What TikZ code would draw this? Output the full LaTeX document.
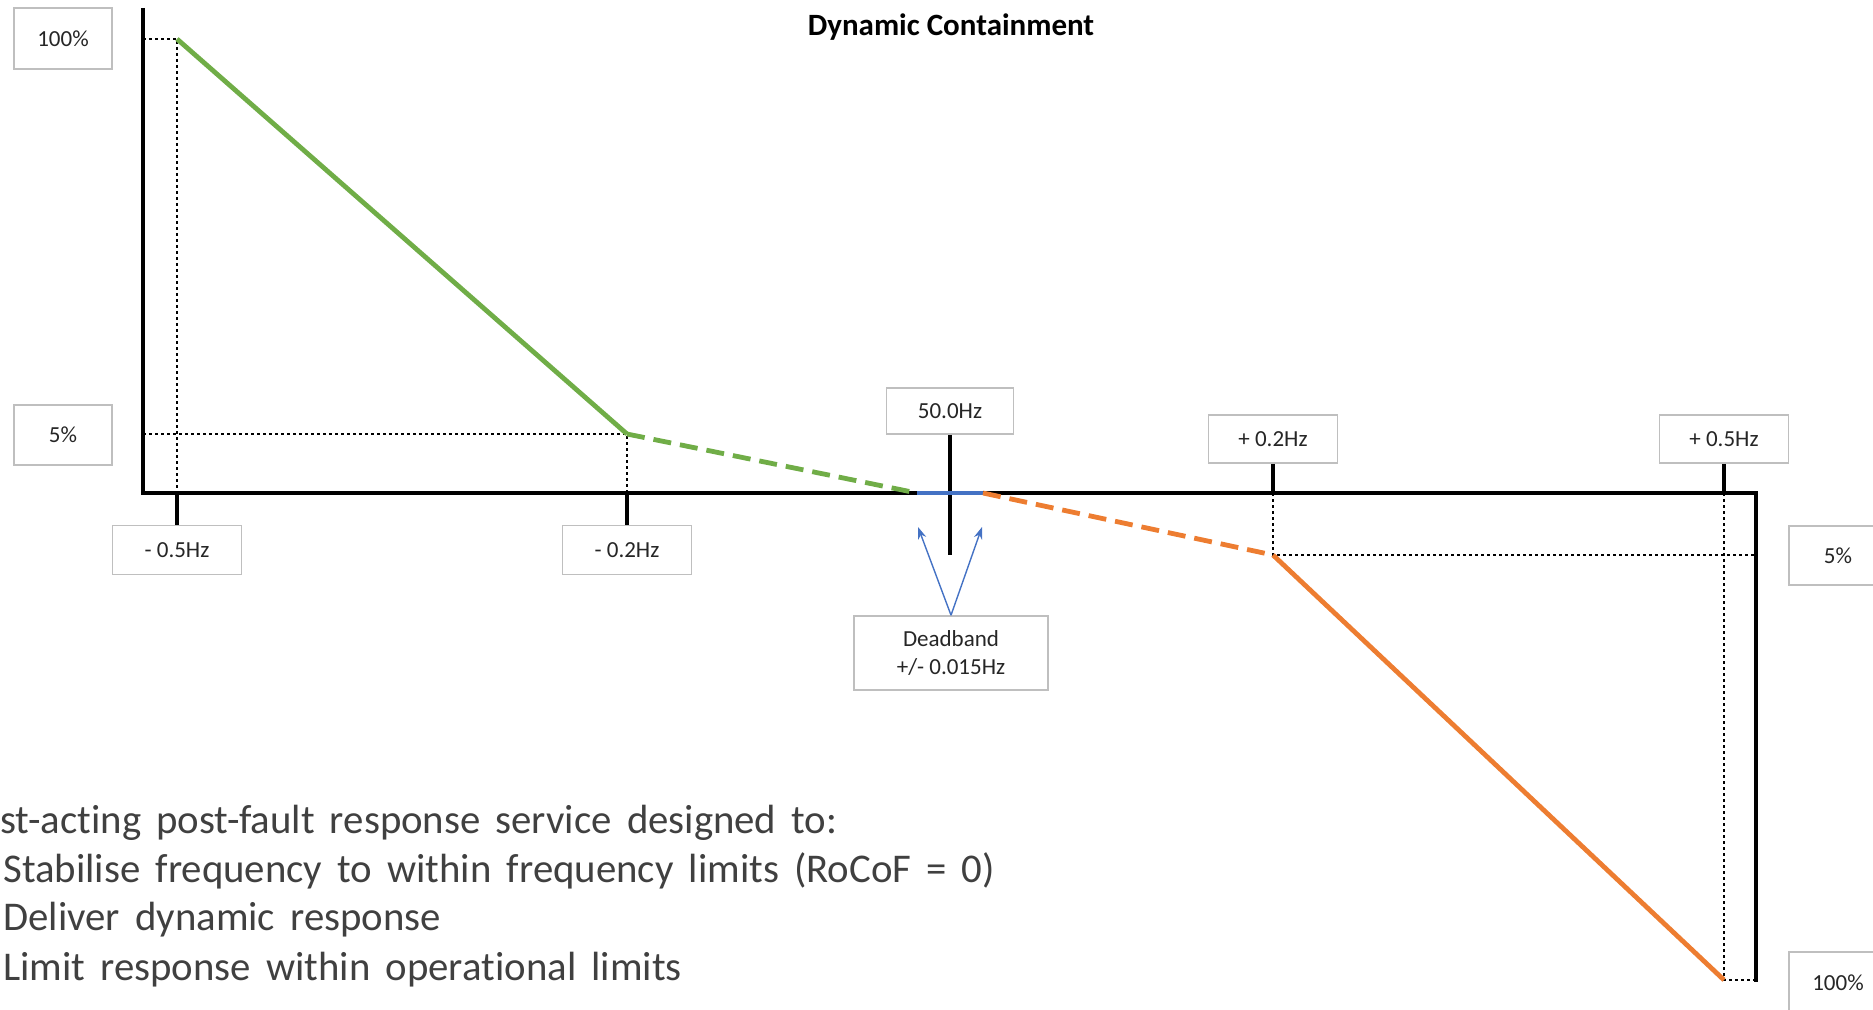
\documentclass[tikz,border=0pt]{standalone}
\usepackage{fontspec}
\setmainfont{Carlito}[Ligatures={NoCommon}]
\usetikzlibrary{arrows.meta}
\definecolor{dcgreen}{HTML}{70AD47}
\definecolor{dcorange}{HTML}{ED7D31}
\definecolor{dcblue}{HTML}{4472C4}
\definecolor{boxgray}{HTML}{BFBFBF}
\definecolor{txtgray}{HTML}{404040}
\definecolor{lbltxt}{HTML}{262626}
\newcommand{\bodyfont}{\fontsize{20.4}{24}\selectfont\spaceskip=0.37em plus 0.1em\relax}
\begin{document}
\begin{tikzpicture}[x=0.5pt,y=-0.5pt,
  lbl/.style={draw=boxgray, line width=0.8pt, fill=white, inner sep=0pt,
    font=\fontsize{11.5}{14}\selectfont, text=lbltxt, align=center},
  axisline/.style={line width=1.7pt, black, line join=miter},
  guide/.style={line width=0.7pt, black, dash pattern=on 1.5pt off 1.5pt},
  curve/.style={line width=2.4pt},
  dashcurve/.style={line width=2.4pt, dash pattern=on 9pt off 4.5pt},
  dbarrow/.style={line width=0.7pt, dcblue, -{Stealth[length=6pt,width=4.2pt]}},
  bodytext/.style={anchor=base west, inner sep=0pt, text=txtgray, font=\bodyfont}]
\useasboundingbox (0,0) rectangle (1873,1010);
\clip (0,0) rectangle (1873,1010);

% key points
\coordinate (ytop) at (143,8);
\coordinate (O) at (143,493);
\coordinate (xr) at (1756,493);
\coordinate (ybot) at (1756,982);
\coordinate (p1) at (177,39);
\coordinate (p2) at (627,434);
\coordinate (p3) at (917,493);
\coordinate (p4) at (983,493);
\coordinate (p5) at (1273,555);
\coordinate (p6) at (1724,980);
\coordinate (cbot) at (950,555);

% title
\node[anchor=base, font=\bfseries\fontsize{15.5}{18}\selectfont] (title) at (951,36) {Dynamic Containment};

% guides
\draw[guide] (O |- p1) -- (p1) -- (p1 |- O);
\draw[guide] (O |- p2) -- (p2) -- (p2 |- O);
\draw[guide] (p5 |- O) -- (p5) -- (xr |- p5);
\draw[guide] (p6 |- O) -- (p6) -- (xr |- p6);

% axes
\draw[axisline] (ytop) -- (O) -- (xr) -- (ybot);

% label boxes
\node[lbl, minimum width=49pt, minimum height=30.5pt] (b100) at (63,38.5) {100\%};
\node[lbl, minimum width=49pt, minimum height=30pt] (b5) at (63,435) {5\%};
\node[lbl, minimum width=64.5pt, minimum height=24.5pt] (bm05) at (177,550) {- 0.5Hz};
\node[lbl, minimum width=64.5pt, minimum height=24.5pt] (bm02) at (627,550) {- 0.2Hz};
\node[lbl, minimum width=63.5pt, minimum height=23pt] (b50) at (950,411) {50.0Hz};
\node[lbl, minimum width=64.5pt, minimum height=24pt] (bp02) at (1273,439) {+ 0.2Hz};
\node[lbl, minimum width=64.5pt, minimum height=24pt] (bp05) at (1724,439) {+ 0.5Hz};
\node[lbl, minimum width=49pt, minimum height=29.5pt] (b5r) at (1838,555.5) {5\%};
\node[lbl, minimum width=49pt, minimum height=30.5pt] (b100r) at (1838,982.5) {100\%};
\node[lbl, minimum width=97pt, minimum height=37pt] (db) at (951,653) {Deadband\\+/- 0.015Hz};

% ticks
\draw[axisline] (bm05.north) -- (bm05.north |- O);
\draw[axisline] (bm02.north) -- (bm02.north |- O);
\draw[axisline] (b50.south) -- (cbot);
\draw[axisline] (bp02.south) -- (bp02.south |- O);
\draw[axisline] (bp05.south) -- (bp05.south |- O);

% response curves
\draw[curve, dcgreen] (p1) -- (p2);
\draw[dashcurve, dcgreen] (p2) -- (p3);
\draw[curve, dcblue] (p3) -- (p4);
\draw[dashcurve, dcorange] (p4) -- (p5);
\draw[curve, dcorange] (p5) -- (p6);

% deadband arrows
\coordinate (da1) at (918,527);
\coordinate (da2) at (982,527);
\draw[dbarrow] (db.north) -- (da1);
\draw[dbarrow] (db.north) -- (da2);

% body text
\node[bodytext] (t1) at (0,833) {st-acting post-fault response service designed to:};
\node[bodytext] (t2) at (3,882) {Stabilise frequency to within frequency limits (RoCoF = 0)};
\node[bodytext] (t3) at (3,930) {Deliver dynamic response};
\node[bodytext] (t4) at (3,980) {Limit response within operational limits};
\end{tikzpicture}
\end{document}
